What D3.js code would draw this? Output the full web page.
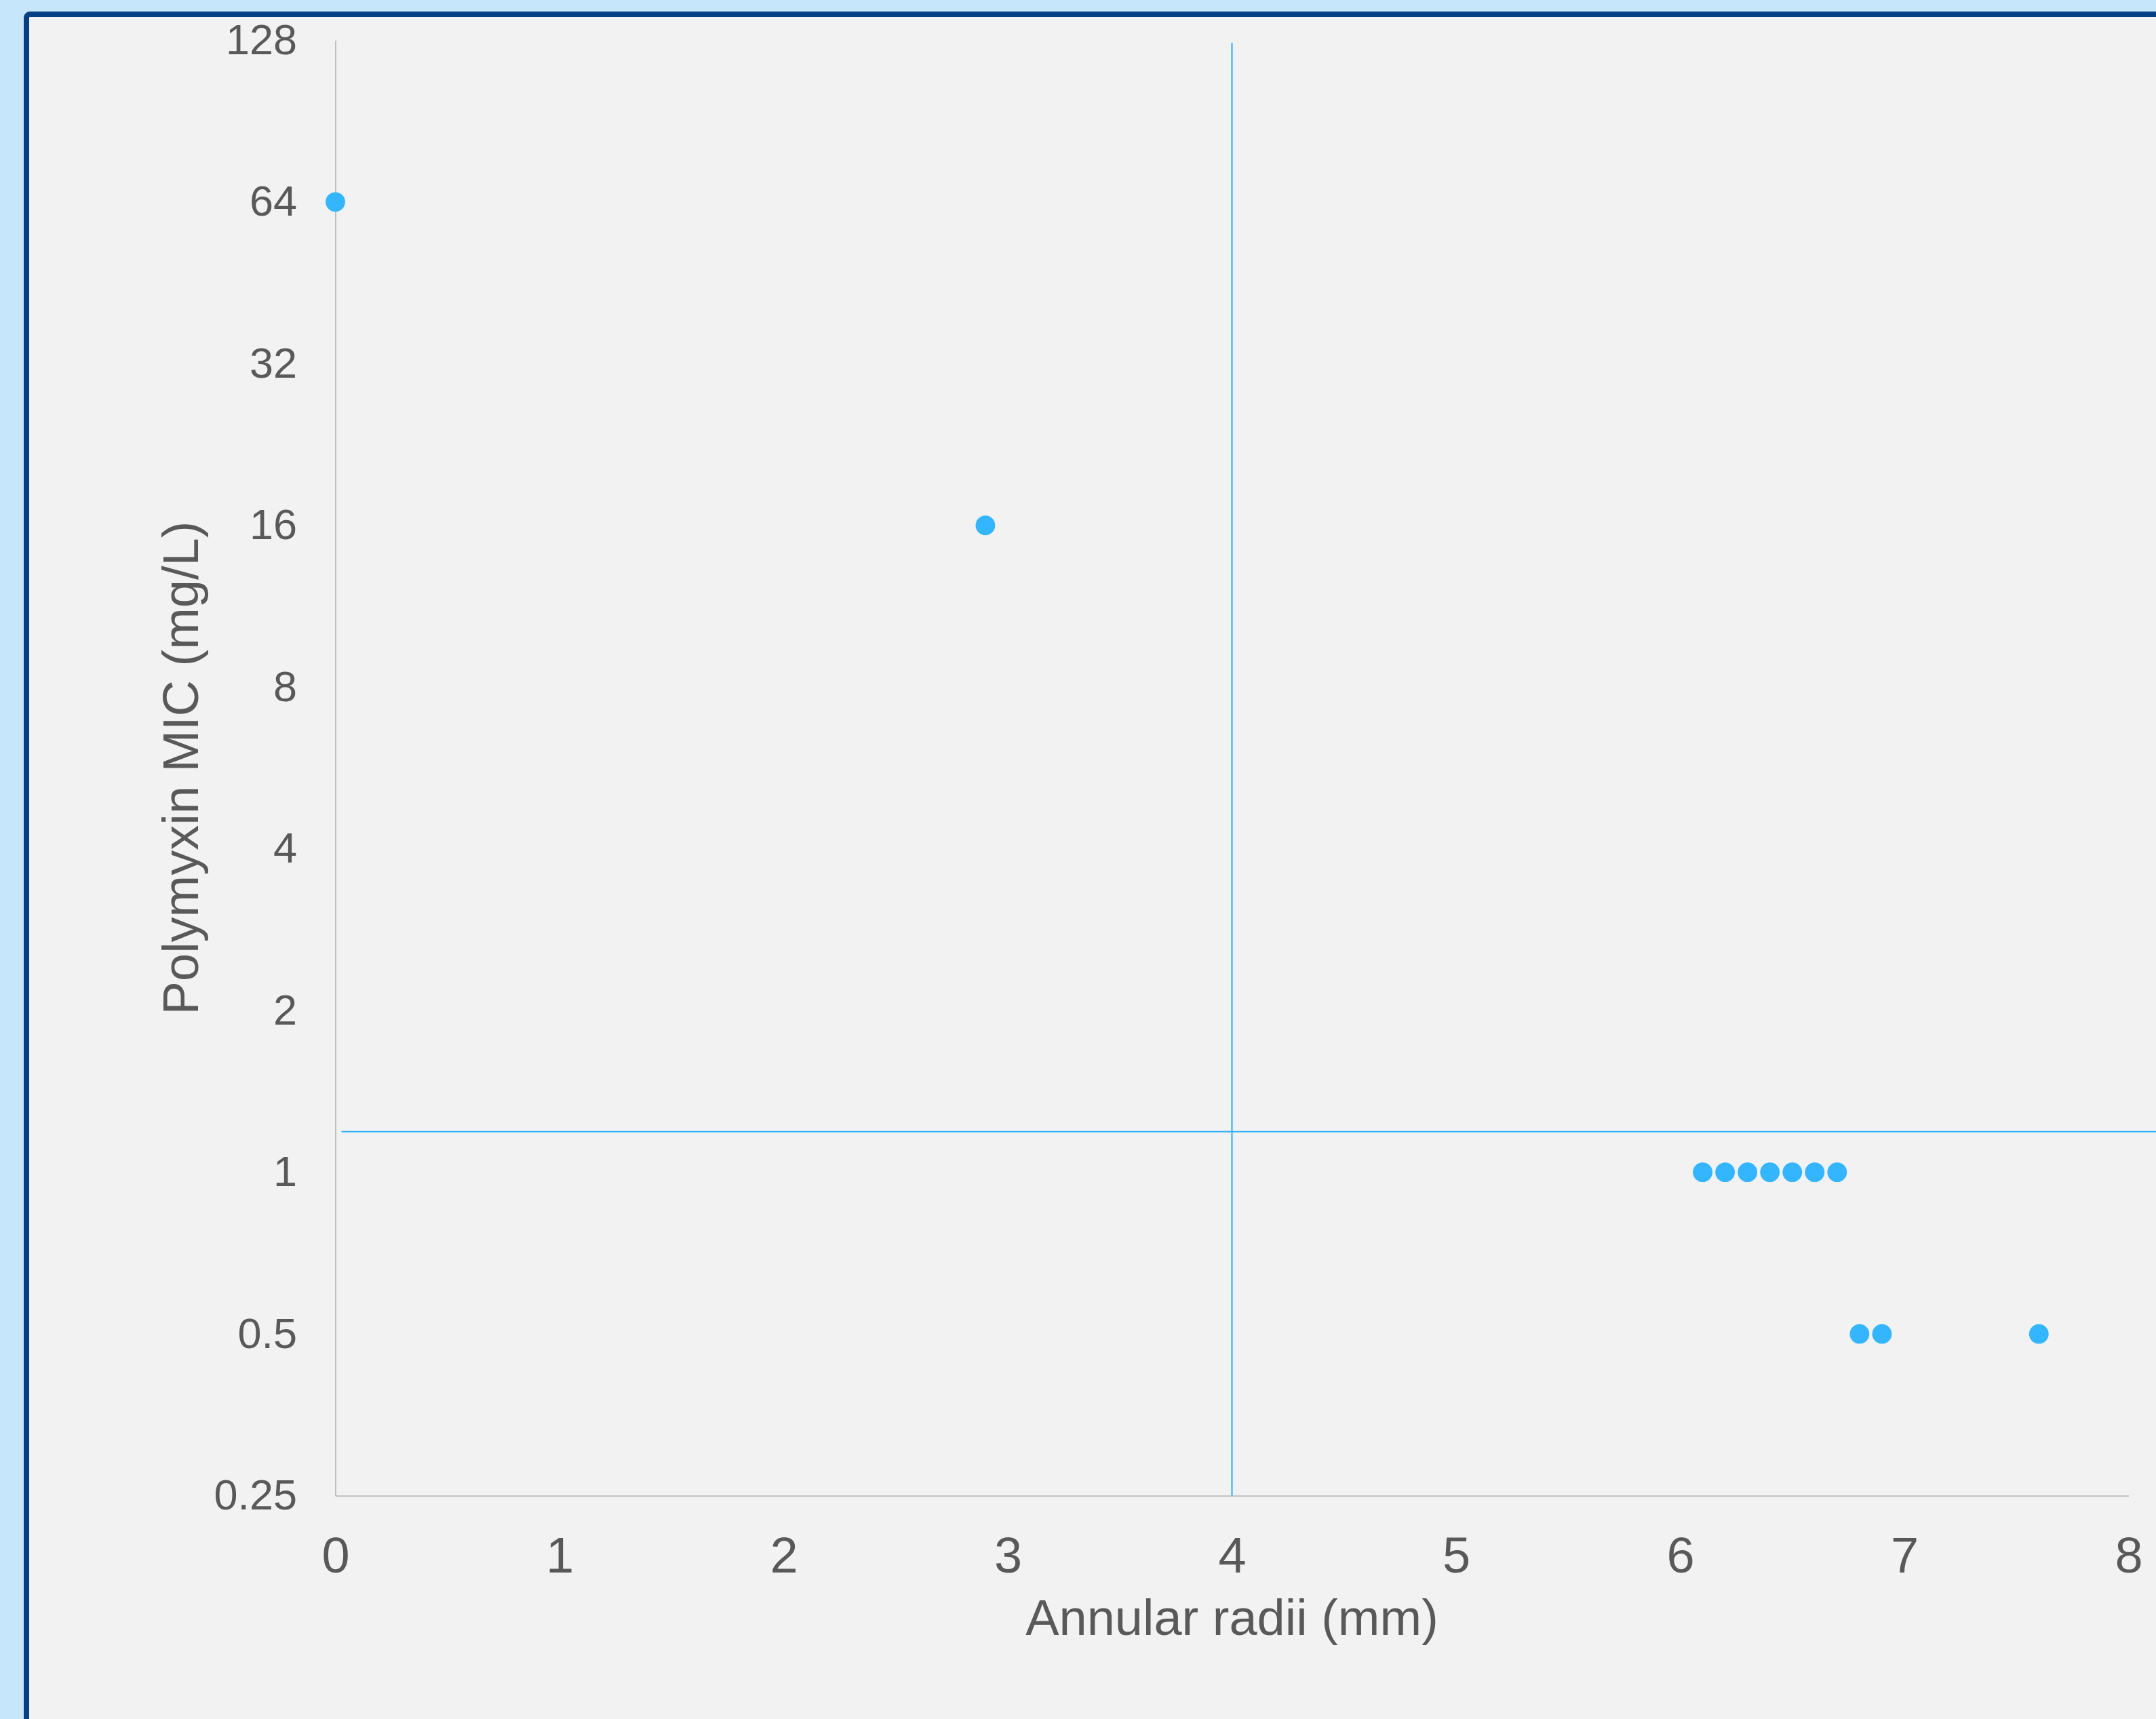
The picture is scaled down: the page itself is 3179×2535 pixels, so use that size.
<!DOCTYPE html>
<html>
<head>
<meta charset="utf-8">
<script src="https://cdn.jsdelivr.net/npm/d3@7"></script>
<style>
  html, body { margin: 0; padding: 0; background: #C6E6FB; }
  svg { display: block; }
  text { font-family: "Liberation Sans", Arial, sans-serif; fill: #595959; }
</style>
</head>
<body>
<svg id="chart" width="3179" height="2535"></svg>
<script>
// ---- data ----
const radii = [0, 2.9, 6.1, 6.2, 6.3, 6.4, 6.5, 6.6, 6.7, 6.8, 6.9, 7.6];
const mic   = [64, 16, 1, 1, 1, 1, 1, 1, 1, 0.5, 0.5, 0.5];
const xTicks = [0, 1, 2, 3, 4, 5, 6, 7, 8];
const yTicks = [0.25, 0.5, 1, 2, 4, 8, 16, 32, 64, 128];
const yTickLabels = ["0.25", "0.5", "1", "2", "4", "8", "16", "32", "64", "128"];
// cut-off reference lines
const hLineX = [0.027, 8.3];
const hLineY = [1.19, 1.19];
const vLineX = [4, 4];
const vLineY = [0.25, 126.5];
const xTitle = "Annular radii (mm)";
const yTitle = "Polymyxin MIC (mg/L)";

const W = 3179, H = 2535;
const svg = d3.select("#chart");

// background panel with dark blue frame
svg.append("rect").attr("x", 0).attr("y", 0).attr("width", W).attr("height", H).attr("fill", "#C6E6FB");
svg.append("rect")
  .attr("x", 39).attr("y", 21).attr("width", W + 100).attr("height", H + 100)
  .attr("rx", 5)
  .attr("fill", "#F2F2F2").attr("stroke", "#073F87").attr("stroke-width", 8);

const x = d3.scaleLinear().domain([0, 8]).range([494.5, 3138.5]);
const y = d3.scaleLog().base(2).domain([0.25, 128]).range([2205.7, 59.3]);

// axes
const gx = svg.append("g").attr("transform", `translate(0,${y(0.25)})`)
  .call(d3.axisBottom(x).tickValues(xTicks).tickSize(0).tickSizeOuter(0).tickPadding(61).tickFormat(d3.format("d")));
gx.select(".domain").attr("stroke", "#BFBFBF").attr("stroke-width", 2);
gx.selectAll("text").style("font-size", "74px").attr("fill", "#595959")
  .style("font-family", "'Liberation Sans', Arial, sans-serif");

const gy = svg.append("g").attr("transform", `translate(${x(0)},0)`)
  .call(d3.axisLeft(y).tickValues(yTicks).tickSize(0).tickSizeOuter(0).tickPadding(56.5)
    .tickFormat((d, i) => yTickLabels[i]));
gy.select(".domain").attr("stroke", "#BFBFBF").attr("stroke-width", 2);
gy.selectAll("text").style("font-size", "63px").attr("fill", "#595959")
  .style("font-family", "'Liberation Sans', Arial, sans-serif");

// reference lines
const line = d3.line().x(d => x(d[0])).y(d => y(d[1]));
svg.append("path").datum(hLineX.map((v, i) => [v, hLineY[i]]))
  .attr("d", line).attr("fill", "none").attr("stroke", "#33B5FF").attr("stroke-width", 2.2);
svg.append("path").datum(vLineX.map((v, i) => [v, vLineY[i]]))
  .attr("d", line).attr("fill", "none").attr("stroke", "#33B5FF").attr("stroke-width", 2.2);

// points
svg.append("g").selectAll("circle")
  .data(radii.map((r, i) => ({ r, m: mic[i] })))
  .join("circle")
  .attr("cx", d => x(d.r)).attr("cy", d => y(d.m)).attr("r", 14.4)
  .attr("fill", "#33B5FF");

// axis titles
svg.append("text")
  .attr("x", (x(0) + x(8)) / 2).attr("y", 2411)
  .attr("text-anchor", "middle").style("font-size", "74px")
  .text(xTitle);

svg.append("text")
  .attr("transform", `translate(292,${(y(0.25) + y(128)) / 2}) rotate(-90)`)
  .attr("text-anchor", "middle").style("font-size", "74px")
  .text(yTitle);
</script>
</body>
</html>
